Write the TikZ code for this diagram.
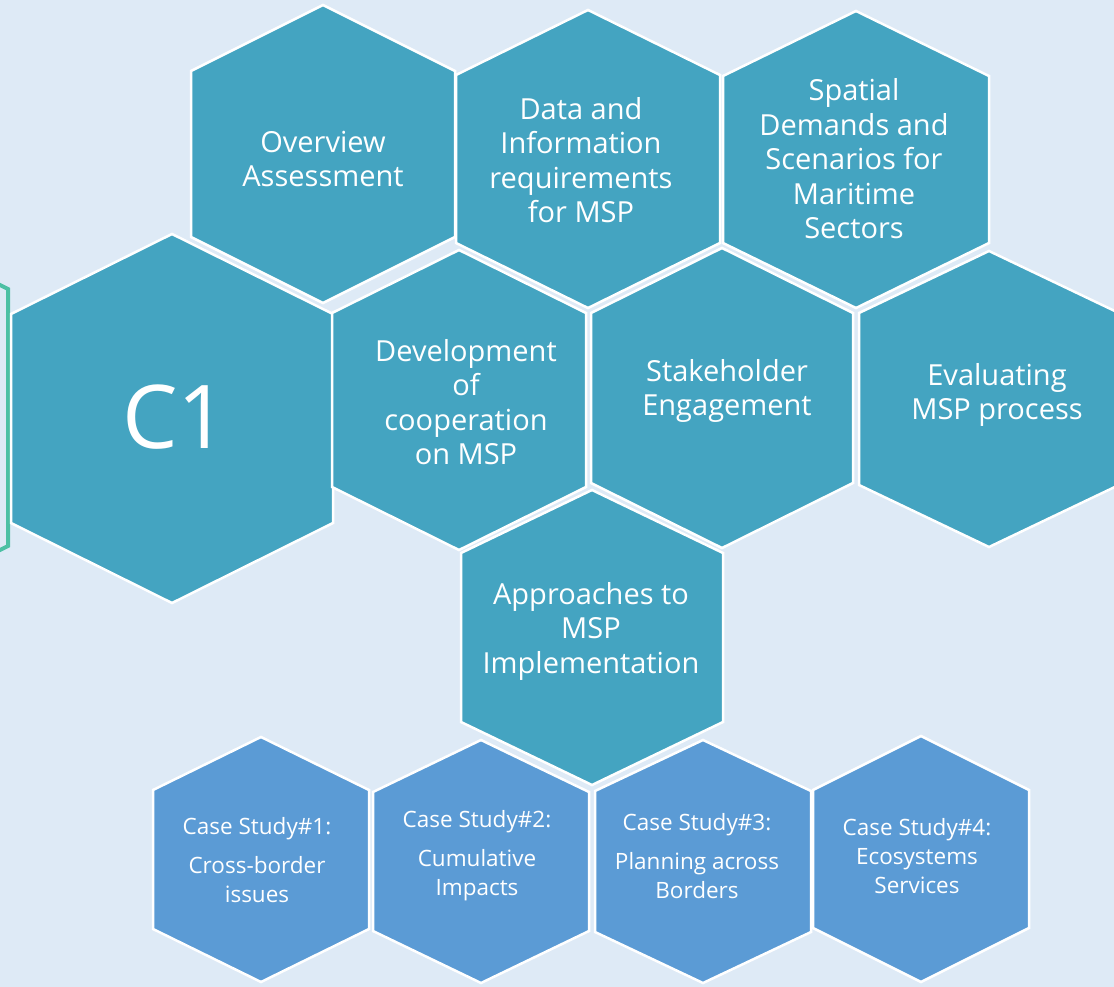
\documentclass[tikz,border=0pt]{standalone}
\usepackage{fontspec}
\setmainfont{Open Sans}
\usepackage{tikz}
\usepackage{xcolor}

\definecolor{bgblue}{RGB}{222,234,246}
\definecolor{hexteal}{RGB}{68,164,193}
\definecolor{caseblue}{RGB}{91,155,213}
\definecolor{framegreen}{RGB}{76,192,164}

% hexagon: style, centre x, top, half width, shoulder, bottom
\newcommand{\hexa}[6]{%
\draw[#1] (#2,#3) -- (#2+#4,#3+#5) -- (#2+#4,#6-#5) -- (#2,#6) -- (#2-#4,#6-#5) -- (#2-#4,#3+#5) -- cycle;}

\begin{document}
\begin{tikzpicture}[x=1pt,y=-1pt,
  hexmain/.style={fill=hexteal,draw=white,line width=2.5pt},
  hexcase/.style={fill=caseblue,draw=white,line width=2.5pt},
  mainlabel/.style={text=white,align=center,font=\fontsize{29}{34.5}\selectfont},
  caselabel/.style={text=white,align=center,font=\fontsize{22.5}{29}\selectfont}]
\fill[bgblue] (0,0) rectangle (1114,987);
\useasboundingbox (0,0) rectangle (1114,987);
\clip (0,0) rectangle (1114,987);

\draw[framegreen,line width=4pt] (-20,275) -- (8,289) -- (8,546) -- (-20,560);

% top row
\hexa{hexmain}{323}{5}{132}{66}{303}
\hexa{hexmain}{588}{10}{132}{65}{308}
\hexa{hexmain}{856}{11}{133}{65}{308}
% middle row
\hexa{hexmain}{172}{234}{161}{80}{603}
\hexa{hexmain}{459}{250}{127}{63}{550}
\hexa{hexmain}{722}{248}{131}{65}{548}
\hexa{hexmain}{989}{251}{130}{62}{547}
\hexa{hexmain}{592}{490}{131}{63}{785}
% case studies
\hexa{hexcase}{261}{737}{108}{53}{982}
\hexa{hexcase}{481}{740}{108}{52}{983}
\hexa{hexcase}{703}{740}{108}{51}{983}
\hexa{hexcase}{921}{736}{108}{54}{982}

\node[mainlabel] (overview) at (323,159) {Overview\\Assessment};
\node[mainlabel] (data) at (581,160) {Data and\\Information\\requirements\\for MSP};
\node[mainlabel] (spatial) at (854,159) {Spatial\\Demands and\\Scenarios for\\Maritime\\Sectors};
\node[text=white,font=\fontsize{88}{96}\selectfont] (cone) at (175,417) {C1};
\node[mainlabel] (devel) at (466,402) {Development\\of\\cooperation\\on MSP};
\node[mainlabel] (stake) at (727,391) {Stakeholder\\Engagement};
\node[mainlabel] (evalu) at (997,395) {Evaluating\\MSP process};
\node[mainlabel] (appr) at (591,631) {Approaches to\\MSP\\Implementation};

\node[caselabel] (caseone) at (257,860) {Case Study\#1:\\[10pt]Cross-border\\issues};
\node[caselabel] (casetwo) at (477,856) {Case Study\#2:\\[10pt]Cumulative\\Impacts};
\node[caselabel] (casethree) at (697,856) {Case Study\#3:\\[10pt]Planning across\\Borders};
\node[caselabel] (casefour) at (917,856) {Case Study\#4:\\Ecosystems\\Services};
\end{tikzpicture}
\end{document}
